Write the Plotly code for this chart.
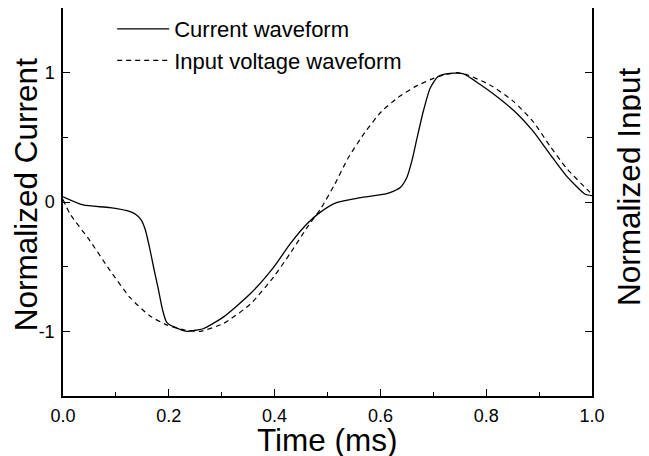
import plotly.graph_objects as go

# Current waveform (solid)
t_current = [0.0, 0.038, 0.089, 0.127, 0.139, 0.148, 0.156, 0.164, 0.172, 0.180, 0.188, 0.196,
             0.212, 0.234, 0.253, 0.265, 0.303, 0.354, 0.398, 0.429, 0.461, 0.486, 0.517, 0.561,
             0.612, 0.637, 0.650, 0.659, 0.669, 0.681, 0.694, 0.709, 0.732, 0.757, 0.788, 0.820,
             0.858, 0.889, 0.921, 0.952, 0.987, 1.0]
v_current = [0.04, -0.023, -0.044, -0.075, -0.10, -0.14, -0.22, -0.36, -0.52, -0.67, -0.83, -0.93,
             -0.97, -1.0, -0.99, -0.98, -0.89, -0.71, -0.505, -0.325, -0.17, -0.08, -0.005, 0.033,
             0.064, 0.11, 0.19, 0.31, 0.49, 0.70, 0.88, 0.97, 0.995, 0.99, 0.91, 0.815,
             0.685, 0.546, 0.367, 0.20, 0.06, 0.05]

# Input voltage waveform (dashed)
t_input = [0.0, 0.013, 0.051, 0.089, 0.127, 0.164, 0.196, 0.23, 0.259, 0.303, 0.354, 0.398,
           0.429, 0.461, 0.489, 0.514, 0.539, 0.571, 0.602, 0.634, 0.665, 0.697, 0.722, 0.745,
           0.763, 0.807, 0.851, 0.889, 0.921, 0.952, 0.990, 1.0]
v_input = [0.02, -0.09, -0.30, -0.53, -0.74, -0.88, -0.95, -0.99, -1.0, -0.94, -0.79, -0.58,
           -0.40, -0.20, -0.04, 0.14, 0.34, 0.54, 0.70, 0.81, 0.89, 0.95, 0.985, 1.0,
           0.985, 0.905, 0.78, 0.62, 0.43, 0.26, 0.10, 0.06]

x_tickvals = [0.0, 0.2, 0.4, 0.6, 0.8, 1.0]
x_ticktext = ["0.0", "0.2", "0.4", "0.6", "0.8", "1.0"]
y_tickvals = [-1, 0, 1]
y_ticktext = ["-1", "0", "1"]

FONT = "Liberation Sans, Arial, sans-serif"
TITLE_SIZE = 31.5

fig = go.Figure()
fig.add_trace(go.Scatter(x=t_current, y=v_current, mode="lines", name="Current waveform",
                         line=dict(color="black", width=1.3, shape="spline", smoothing=0.6)))
fig.add_trace(go.Scatter(x=t_input, y=v_input, mode="lines", name="Input voltage waveform",
                         line=dict(color="black", width=1.2, dash="5px,4px", shape="spline", smoothing=0.6)))

axis_common = dict(showgrid=False, zeroline=False, showline=True, linecolor="black", linewidth=1.5,
                   ticks="inside", ticklen=7, tickwidth=1.2, tickcolor="black",
                   tickfont=dict(family=FONT, size=18, color="black"))

fig.update_xaxes(range=[0, 1], tickvals=x_tickvals, ticktext=x_ticktext, mirror=True,
                 ticklabelstandoff=3,
                 minor=dict(tickvals=[0.1, 0.3, 0.5, 0.7, 0.9], ticks="inside", ticklen=4,
                            tickwidth=1.2, tickcolor="black"),
                 **axis_common)
fig.update_yaxes(range=[-1.5, 1.5], tickvals=y_tickvals, ticktext=y_ticktext, mirror="ticks",
                 ticklabelstandoff=3,
                 minor=dict(tickvals=[-0.5, 0.5], ticks="inside", ticklen=5,
                            tickwidth=1.2, tickcolor="black"),
                 **axis_common)

fig.update_layout(
    width=649, height=456,
    margin=dict(l=55, r=65, t=0, b=68, autoexpand=False),
    paper_bgcolor="white", plot_bgcolor="white",
    showlegend=True,
    legend=dict(x=0.093, y=1.0, xanchor="left", yanchor="top", bgcolor="rgba(0,0,0,0)",
                font=dict(family=FONT, size=22, color="black"), itemwidth=52, tracegroupgap=0),
    annotations=[
        dict(text="Normalized Current", xref="paper", yref="paper", x=-0.07, y=0.52,
             xanchor="center", yanchor="middle", textangle=-90, showarrow=False,
             font=dict(family=FONT, size=TITLE_SIZE, color="black")),
        dict(text="Normalized Input", xref="paper", yref="paper", x=1.07, y=0.539,
             xanchor="center", yanchor="middle", textangle=-90, showarrow=False,
             font=dict(family=FONT, size=TITLE_SIZE, color="black")),
        dict(text="Time (ms)", xref="paper", yref="paper", x=0.5, y=-0.114,
             xanchor="center", yanchor="middle", showarrow=False,
             font=dict(family=FONT, size=TITLE_SIZE, color="black")),
    ],
)

fig.write_html("out.html")
